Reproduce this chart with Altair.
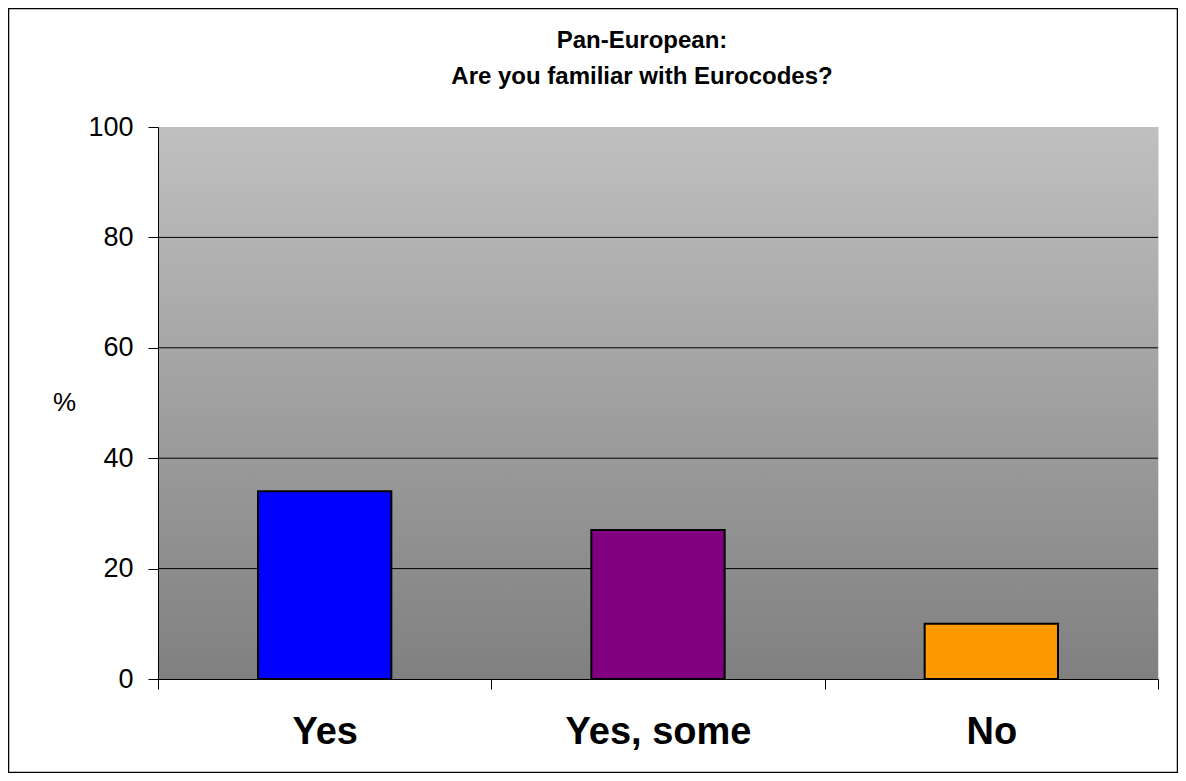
import altair as alt
import pandas as pd

categories = ["Yes", "Yes, some", "No"]
values = [34, 27, 10]
colors = ["#0000FF", "#800080", "#FF9900"]
grid_values = [20, 40, 60, 80]
y_ticks = [0, 20, 40, 60, 80, 100]
title_lines = ["Pan-European:", "Are you familiar with Eurocodes?"]

FONT = "Liberation Sans"
W, H = 1000, 552

bars_df = pd.DataFrame({"cat": categories, "val": values, "color": colors})
grid_df = pd.DataFrame({"v": grid_values})

yscale = alt.Scale(domain=[0, 100], nice=False)

background = alt.Chart(pd.DataFrame({"a": [0]})).mark_rect(
    fill=alt.LinearGradient(
        gradient="linear",
        stops=[alt.GradientStop(color="#c0c0c0", offset=0),
               alt.GradientStop(color="#808080", offset=1)],
        x1=0, x2=0, y1=0, y2=1),
    stroke=None,
).encode(
    x=alt.value(0), x2=alt.value(W),
    y=alt.datum(100, scale=yscale), y2=alt.datum(0),
)

gridlines = alt.Chart(grid_df).mark_rule(color="black", strokeWidth=1).encode(
    y=alt.Y("v:Q", scale=yscale)
)

frame = alt.Chart(pd.DataFrame({"a": [0]})).mark_rect(
    fill=None, stroke="black", strokeWidth=1.5, clip=False
).encode(
    x=alt.value(-149.5), x2=alt.value(1019.5),
    y=alt.value(-118.5), y2=alt.value(645.5),
)

title = alt.Chart(pd.DataFrame({"t": ["\n".join(title_lines)]})).mark_text(
    font=FONT, fontSize=24, fontWeight="bold", color="black",
    align="center", baseline="middle", lineBreak="\n", lineHeight=36,
    clip=False,
).encode(
    text="t:N", x=alt.value(484), y=alt.value(-86),
)

bars = alt.Chart(bars_df).mark_bar(
    stroke="black", strokeWidth=2, width=alt.RelativeBandSize(0.4)
).encode(
    x=alt.X("cat:N", sort=categories,
            scale=alt.Scale(paddingInner=0, paddingOuter=0),
            axis=alt.Axis(title=None, labelAngle=0, labelFontSize=38,
                          labelFontWeight="bold", labelFont=FONT,
                          labelColor="black", labelPadding=24, labelLimit=500,
                          tickBand="extent", tickSize=10, tickColor="black",
                          domainColor="black", grid=False, zindex=1)),
    y=alt.Y("val:Q", scale=yscale,
            axis=alt.Axis(values=y_ticks, title="%", titleAngle=0,
                          titleFontSize=26, titleFont=FONT,
                          titleFontWeight="normal", titleColor="black",
                          titleX=-94, titleY=275, titleAlign="center",
                          titleBaseline="middle",
                          labelFontSize=27, labelFont=FONT, labelColor="black",
                          labelPadding=15, tickSize=10, tickColor="black",
                          domainColor="black", grid=False, zindex=1)),
    color=alt.Color("color:N", scale=None),
)

chart = alt.layer(background, gridlines, bars, title, frame).properties(
    width=W, height=H,
    autosize=alt.AutoSizeParams(type="none"),
    padding={"left": 150, "top": 119, "right": 20, "bottom": 94},
).configure_view(stroke="#808080", strokeWidth=2).configure(background="white")

chart.save("out.html", embed_options={"renderer": "svg", "actions": False})
